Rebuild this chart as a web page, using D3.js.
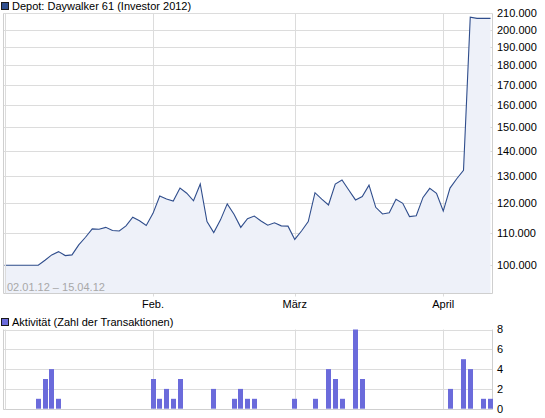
<!DOCTYPE html>
<html>
<head>
<meta charset="utf-8">
<script src="https://cdn.jsdelivr.net/npm/d3@7"></script>
<style>
  body { margin: 0; background: #fff; }
  svg { display: block; font-family: "Liberation Sans", Arial, sans-serif; }
</style>
</head>
<body>
<div id="chart"></div>
<script>
// depot value per trading day (02.01.12 - 13.04.12)
const depotValues = [
  100000, 100000, 100000, 100000, 100000, 100000, 101500, 103100, 104100, 102900,
  103100, 106200, 108600, 111300, 111200, 111800, 110800, 110600, 112300, 115200,
  114000, 112400, 116500, 122600, 121500, 120800, 125500, 123600, 120900, 127000,
  113700, 110100, 114300, 119800, 116200, 111800, 114700, 115600, 113900, 112500,
  113300, 112300, 112200, 107900, 110600, 113700, 123800, 121500, 119400, 127000,
  128500, 124800, 121200, 122400, 126600, 118600, 116300, 116700, 121400, 120000,
  115400, 115700, 122100, 125400, 123600, 117300, 125500, 129000, 132200, 207400,
  206700, 206700, 206700
];

// activity (number of transactions): trading-day index and count
const activityIdx = [5, 6, 7, 8, 22, 23, 24, 25, 26, 31, 34, 35, 36, 37, 43, 46, 48, 49, 50, 52, 53, 66, 68, 69, 71, 72];
const activityVals = [1, 3, 4, 1, 3, 1, 2, 1, 3, 2, 1, 2, 1, 1, 1, 1, 4, 3, 1, 8, 3, 2, 5, 4, 1, 1];

// month starts on the trading-day axis
const monthLabels = ['Feb.', 'März', 'April'];
const monthIdx = [22, 43, 65];

const yTicks = [100000, 110000, 120000, 130000, 140000, 150000, 160000, 170000, 180000, 190000, 200000, 210000];
const activityTicks = [0, 2, 4, 6, 8];

const width = 545, height = 418;
const svg = d3.select('#chart').append('svg')
  .attr('width', width)
  .attr('height', height);

const left = 3.5, right = 492.5;
const top1 = 13.5, bottom1 = 293.5;
const top2 = 329.5, bottom2 = 409.5;

const gridColor = '#dcdcdc';
const frameColor = '#cfcfcf';

const x = d3.scaleLinear()
  .domain([0, depotValues.length - 1])
  .range([4.5, 490.5]);

const y = d3.scaleLog()
  .domain([100000, 200000])
  .range([265.3, 29.6]);

const y2 = d3.scaleLinear()
  .domain([0, 8])
  .range([bottom2 - 0.8, top2]);

const fmt = d3.formatLocale({ decimal: ',', thousands: '.', grouping: [3], currency: ['', ''] }).format(',.0f');

// ---------- top chart: depot ----------
const g1 = svg.append('g');

// horizontal grid
g1.selectAll('line.hgrid')
  .data(yTicks)
  .join('line')
  .attr('x1', left).attr('x2', right)
  .attr('y1', d => Math.round(y(d)) + 0.5)
  .attr('y2', d => Math.round(y(d)) + 0.5)
  .attr('stroke', gridColor);

// vertical grid at month starts
g1.selectAll('line.vgrid')
  .data(monthIdx)
  .join('line')
  .attr('x1', d => Math.round(x(d)) + 0.5).attr('x2', d => Math.round(x(d)) + 0.5)
  .attr('y1', top1).attr('y2', bottom1 + 3)
  .attr('stroke', gridColor);

// area under the line
const area = d3.area()
  .x((d, i) => x(i))
  .y0(bottom1)
  .y1(d => y(d));

g1.append('path')
  .datum(depotValues)
  .attr('d', area)
  .attr('fill', '#eef1f9');

const line = d3.line()
  .x((d, i) => x(i))
  .y(d => y(d));

g1.append('path')
  .datum(depotValues)
  .attr('d', line)
  .attr('fill', 'none')
  .attr('stroke', '#2f4d8c')
  .attr('stroke-width', 1.1);

// frame
g1.append('path')
  .attr('d', `M${left},${top1}V${bottom1}H${right}V${top1}`)
  .attr('fill', 'none')
  .attr('stroke', frameColor);
g1.append('line')
  .attr('x1', 5.5).attr('x2', 5.5)
  .attr('y1', top1).attr('y2', bottom1)
  .attr('stroke', gridColor);

// y labels
g1.selectAll('text.ylab')
  .data(yTicks)
  .join('text')
  .attr('x', 497)
  .attr('y', d => y(d))
  .attr('dy', '0.36em')
  .attr('font-size', 11)
  .attr('fill', '#000')
  .text(d => fmt(d));

// month labels
g1.selectAll('text.xlab')
  .data(monthIdx)
  .join('text')
  .attr('x', d => x(d))
  .attr('y', 308)
  .attr('text-anchor', 'middle')
  .attr('font-size', 11)
  .attr('fill', '#000')
  .text((d, i) => monthLabels[i]);

// date range
g1.append('text')
  .attr('x', 7)
  .attr('y', 291)
  .attr('font-size', 11)
  .attr('fill', '#a8a8a8')
  .text('02.01.12 \u2013 15.04.12');

// legend
svg.append('rect')
  .attr('x', 1.5).attr('y', 2.5).attr('width', 7).attr('height', 7)
  .attr('fill', '#2f4f8f').attr('stroke', '#1a1a1a');
svg.append('text')
  .attr('x', 12).attr('y', 10)
  .attr('font-size', 11)
  .text('Depot: Daywalker 61 (Investor 2012)');

// ---------- bottom chart: activity ----------
const g2 = svg.append('g');

g2.selectAll('line.hgrid')
  .data(activityTicks)
  .join('line')
  .attr('x1', left).attr('x2', right)
  .attr('y1', d => Math.round(y2(d)) + 0.5)
  .attr('y2', d => Math.round(y2(d)) + 0.5)
  .attr('stroke', gridColor);

g2.selectAll('line.vgrid')
  .data(monthIdx)
  .join('line')
  .attr('x1', d => Math.round(x(d)) + 0.5).attr('x2', d => Math.round(x(d)) + 0.5)
  .attr('y1', top2).attr('y2', bottom2)
  .attr('stroke', gridColor);

g2.append('path')
  .attr('d', `M${left},${top2}V${bottom2}H${right}V${top2}`)
  .attr('fill', 'none')
  .attr('stroke', frameColor);
g2.append('line')
  .attr('x1', 5.5).attr('x2', 5.5)
  .attr('y1', top2).attr('y2', bottom2)
  .attr('stroke', gridColor);

g2.selectAll('rect.bar')
  .data(activityVals)
  .join('rect')
  .attr('x', (d, i) => Math.round(x(activityIdx[i]) - 2.5))
  .attr('width', 5)
  .attr('y', d => y2(d))
  .attr('height', d => y2(0) - y2(d))
  .attr('fill', '#6b6bdb');

g2.selectAll('text.ylab')
  .data(activityTicks)
  .join('text')
  .attr('x', 497)
  .attr('y', d => y2(d))
  .attr('dy', '0.36em')
  .attr('font-size', 11)
  .text(d => d);

svg.append('rect')
  .attr('x', 1.5).attr('y', 318.5).attr('width', 7).attr('height', 7)
  .attr('fill', '#6b6bdb').attr('stroke', '#1a1a1a');
svg.append('text')
  .attr('x', 12).attr('y', 326)
  .attr('font-size', 11)
  .text('Aktivität (Zahl der Transaktionen)');
</script>
</body>
</html>
